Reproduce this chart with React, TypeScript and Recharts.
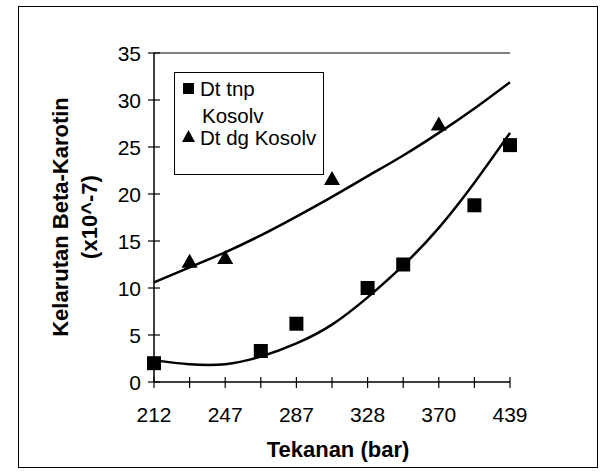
import { ComposedChart, Line, Scatter, XAxis, YAxis, ReferenceLine, Legend } from 'recharts';

const pressureLabels = ['212', '', '247', '', '287', '', '328', '', '370', '', '439'];
const tanpaKosolv = [2.0, null, null, 3.3, 6.2, null, 10.0, 12.5, null, 18.8, 25.2];
const denganKosolv = [null, 12.8, 13.2, null, null, 21.6, null, null, 27.4, null, null];
// trendlines at each category
const trendTanpa = [2.3, 1.9, 1.9, 2.7, 4.1, 6.1, 9.0, 12.4, 16.4, 21.2, 26.5];
const trendDengan = [10.6, 12.2, 13.8, 15.6, 17.6, 19.7, 21.9, 24.1, 26.5, 29.1, 31.9];
const yTicks = [0, 5, 10, 15, 20, 25, 30, 35];

const FONT = '"Liberation Sans", Arial, sans-serif';

const rows = pressureLabels.map((label, i) => ({
  idx: i,
  label,
  trendTanpa: trendTanpa[i],
  trendDengan: trendDengan[i],
}));

const toPoints = (values: (number | null)[]) =>
  values.map((value, idx) => ({ idx, value })).filter((p) => p.value !== null);

const pointsTanpa = toPoints(tanpaKosolv);
const pointsDengan = toPoints(denganKosolv);

function SquareDot({ cx, cy }: any) {
  return <rect x={cx - 7} y={cy - 7} width={14} height={14} fill="#000" />;
}

function TriangleDot({ cx, cy }: any) {
  return <polygon points={`${cx},${cy - 8} ${cx - 8},${cy + 6} ${cx + 8},${cy + 6}`} fill="#000" />;
}

function YTick({ payload }: any) {
  const y = payload.coordinate;
  return (
    <g>
      <line x1={148} x2={160} y1={y} y2={y} stroke="#000" strokeWidth={1.2} />
      <text x={141} y={y} textAnchor="end" dominantBaseline="central" fontSize={21} fontFamily={FONT} fill="#000">
        {payload.value}
      </text>
    </g>
  );
}

function XTick({ payload }: any) {
  const x = payload.coordinate;
  const label = pressureLabels[payload.value];
  return (
    <g>
      <line x1={x} x2={x} y1={377} y2={388} stroke="#000" strokeWidth={1.2} />
      {label && (
        <text x={x} y={414} textAnchor="middle" dominantBaseline="central" fontSize={21} fontFamily={FONT} fill="#000">
          {label}
        </text>
      )}
    </g>
  );
}

function LegendBox() {
  return (
    <div
      style={{
        position: 'relative',
        width: 150,
        height: 103,
        border: '1.2px solid #000',
        boxSizing: 'border-box',
        fontFamily: FONT,
        fontSize: 20.5,
        lineHeight: '22px',
        color: '#000',
      }}
    >
      <div style={{ position: 'absolute', left: 8, top: 10, width: 11, height: 11, background: '#000' }} />
      <div style={{ position: 'absolute', left: 25, top: 5, whiteSpace: 'nowrap' }}>Dt tnp</div>
      <div style={{ position: 'absolute', left: 27, top: 32, whiteSpace: 'nowrap' }}>Kosolv</div>
      <svg style={{ position: 'absolute', left: 7, top: 57 }} width={13} height={13}>
        <polygon points="6.5,0 0,12 13,12" fill="#000" />
      </svg>
      <div style={{ position: 'absolute', left: 25, top: 54, whiteSpace: 'nowrap' }}>Dt dg Kosolv</div>
    </div>
  );
}

export default function App() {
  return (
    <div style={{ position: 'fixed', left: 0, top: 0, width: 612, height: 475, background: '#fff' }}>
      <div
        style={{
          position: 'absolute',
          left: 18,
          top: 6,
          width: 580,
          height: 462,
          border: '1.5px solid #000',
          boxSizing: 'border-box',
        }}
      />
      <ComposedChart
        width={612}
        height={475}
        data={rows}
        margin={{ top: 53, right: 102, left: 0, bottom: 0 }}
        style={{ position: 'absolute', left: 0, top: 0 }}
      >
        <XAxis
          type="number"
          dataKey="idx"
          domain={[0, 10]}
          ticks={[0, 1, 2, 3, 4, 5, 6, 7, 8, 9, 10]}
          interval={0}
          height={93}
          axisLine={{ stroke: '#000', strokeWidth: 1.5 }}
          tickLine={false}
          tick={(props: any) => <XTick {...props} />}
          label={{
            content: () => (
              <text x={338} y={449} textAnchor="middle" dominantBaseline="central" fontSize={22} fontWeight="bold" fontFamily={FONT} fill="#000">
                Tekanan (bar)
              </text>
            ),
          }}
        />
        <YAxis
          type="number"
          domain={[0, 35]}
          ticks={yTicks}
          width={154}
          axisLine={{ stroke: '#000', strokeWidth: 1.5 }}
          tickLine={false}
          tick={(props: any) => <YTick {...props} />}
          label={{
            content: () => (
              <g fontFamily={FONT} fontWeight="bold" fontSize={22} fill="#000">
                <text transform="translate(60,217) rotate(-90)" textAnchor="middle" dominantBaseline="central">
                  Kelarutan Beta-Karotin
                </text>
                <text transform="translate(89,217) rotate(-90)" textAnchor="middle" dominantBaseline="central">
                  (x10^-7)
                </text>
              </g>
            ),
          }}
        />
        <ReferenceLine y={35} stroke="#000" strokeWidth={1} />
        <Legend
          layout="vertical"
          align="center"
          verticalAlign="middle"
          content={() => <LegendBox />}
          wrapperStyle={{ position: 'absolute', left: 174, top: 72, width: 150, height: 103 }}
        />
        <Line
          type="natural"
          dataKey="trendDengan"
          stroke="#000"
          strokeWidth={2.5}
          dot={false}
          activeDot={false}
          legendType="none"
          isAnimationActive={false}
        />
        <Line
          type="natural"
          dataKey="trendTanpa"
          stroke="#000"
          strokeWidth={2.5}
          dot={false}
          activeDot={false}
          legendType="none"
          isAnimationActive={false}
        />
        <Scatter name="Dt tnp Kosolv" data={pointsTanpa} dataKey="value" shape={(p: any) => <SquareDot {...p} />} isAnimationActive={false} />
        <Scatter name="Dt dg Kosolv" data={pointsDengan} dataKey="value" shape={(p: any) => <TriangleDot {...p} />} isAnimationActive={false} />
      </ComposedChart>
    </div>
  );
}
